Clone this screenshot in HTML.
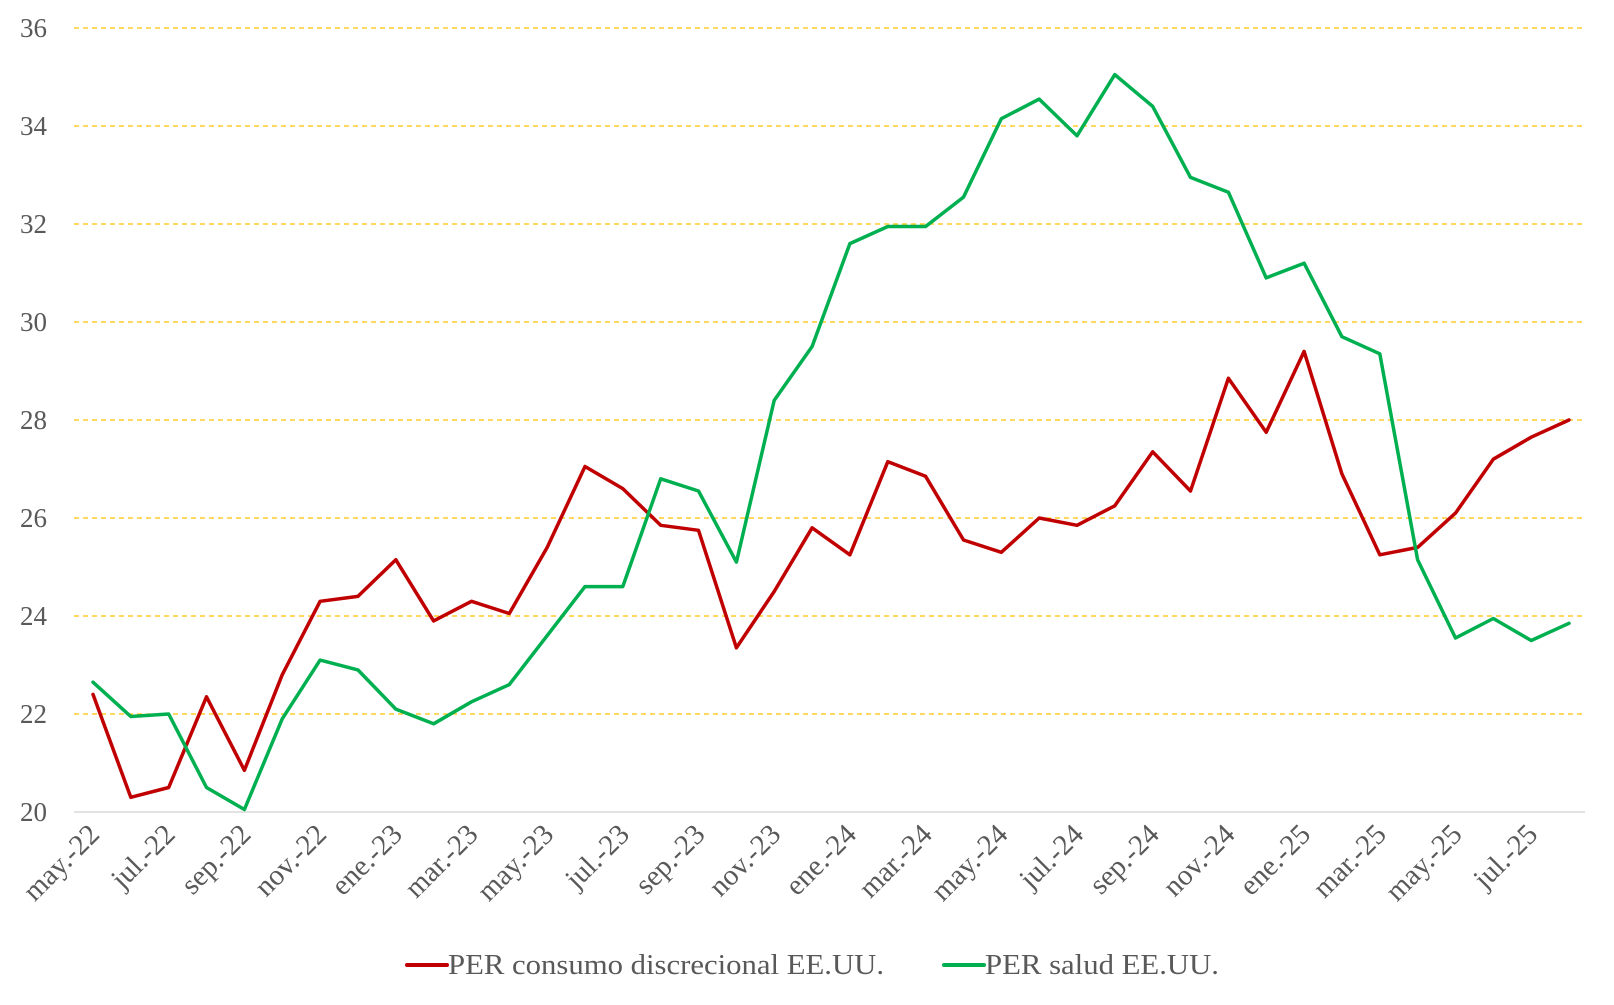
<!DOCTYPE html>
<html><head><meta charset="utf-8"><style>
html,body{margin:0;padding:0;background:#fff;}
svg text{font-family:"Liberation Serif",serif;fill:#595959;}
</style></head><body>
<svg id="chart" width="1614" height="1000" xmlns="http://www.w3.org/2000/svg">
<g id="grid"></g>
<g id="yaxis"></g>
<g id="xaxis"></g>
<g id="series"></g>
<g id="legend">
  <g>
    <line x1="407" y1="965" x2="447" y2="965" stroke="#C00000" stroke-width="4" stroke-linecap="round"/>
    <text x="448" y="974" font-size="28" textLength="436" lengthAdjust="spacingAndGlyphs">PER consumo discrecional EE.UU.</text>
  </g>
  <g>
    <line x1="944" y1="965" x2="984" y2="965" stroke="#00B050" stroke-width="4" stroke-linecap="round"/>
    <text x="985" y="974" font-size="28" textLength="234" lengthAdjust="spacingAndGlyphs">PER salud EE.UU.</text>
  </g>
</g>
</svg>
<script>
const months = ["may.-22","jun.-22","jul.-22","ago.-22","sep.-22","oct.-22","nov.-22","dic.-22","ene.-23","feb.-23","mar.-23","abr.-23","may.-23","jun.-23","jul.-23","ago.-23","sep.-23","oct.-23","nov.-23","dic.-23","ene.-24","feb.-24","mar.-24","abr.-24","may.-24","jun.-24","jul.-24","ago.-24","sep.-24","oct.-24","nov.-24","dic.-24","ene.-25","feb.-25","mar.-25","abr.-25","may.-25","jun.-25","jul.-25","ago.-25"];
const consumo = [22.4,20.3,20.5,22.35,20.85,22.8,24.3,24.4,25.15,23.9,24.3,24.05,25.4,27.05,26.6,25.85,25.75,23.35,24.5,25.8,25.25,27.15,26.85,25.55,25.3,26.0,25.85,26.25,27.35,26.55,28.85,27.75,29.4,26.9,25.25,25.4,26.1,27.2,27.65,28.0];
const salud = [22.65,21.95,22.0,20.5,20.05,21.9,23.1,22.9,22.1,21.8,22.25,22.6,23.6,24.6,24.6,26.8,26.55,25.1,28.4,29.5,31.6,31.95,31.95,32.55,34.15,34.55,33.8,35.05,34.4,32.95,32.65,30.9,31.2,29.7,29.35,25.15,23.55,23.95,23.5,23.85];
const yTicks = [20,22,24,26,28,30,32,34,36];

const NS="http://www.w3.org/2000/svg";
const x0=93, x1=1569, yTop=28, yBot=812, left=74, right=1585;
const xS=i=>x0+(x1-x0)*i/(months.length-1);
const yS=v=>yBot-(v-20)/(36-20)*(yBot-yTop);
function mk(t,a,p){const e=document.createElementNS(NS,t);for(const k in a)e.setAttribute(k,a[k]);p.appendChild(e);return e;}
const grid=document.getElementById('grid'),ya=document.getElementById('yaxis'),xa=document.getElementById('xaxis'),ser=document.getElementById('series');
yTicks.forEach(v=>{
  const y=yS(v);
  let l;
  if(v===20){l=mk('line',{x1:left,x2:right,y1:y,y2:y,stroke:'#d9d9d9','stroke-width':1.5},grid);
    }
  else{l=mk('line',{x1:left,x2:right,y1:y,y2:y,stroke:'#FFC000','stroke-width':1.3,'stroke-dasharray':'5 4'},grid);
    }
  
  const t=mk('text',{x:47,y:y+9,'font-size':27,'text-anchor':'end'},ya);
  t.textContent=v;
  
  
});
months.forEach((m,i)=>{
  if(i%2) return;
  const x=xS(i)+8, y=836;
  const t=mk('text',{x:x,y:y,'font-size':29,'text-anchor':'end',transform:`rotate(-45 ${x} ${y})`},xa);
  t.textContent=m;
  
  
});
function line(data,color,name){
  const p=mk('polyline',{points:data.map((v,i)=>xS(i).toFixed(1)+','+yS(v).toFixed(1)).join(' '),fill:'none',stroke:color,'stroke-width':3.5,'stroke-linejoin':'round','stroke-linecap':'round'},ser);
  
  
}
line(consumo,'#C00000','line-consumo-discrecional');
line(salud,'#00B050','line-salud');
</script>
</body></html>
